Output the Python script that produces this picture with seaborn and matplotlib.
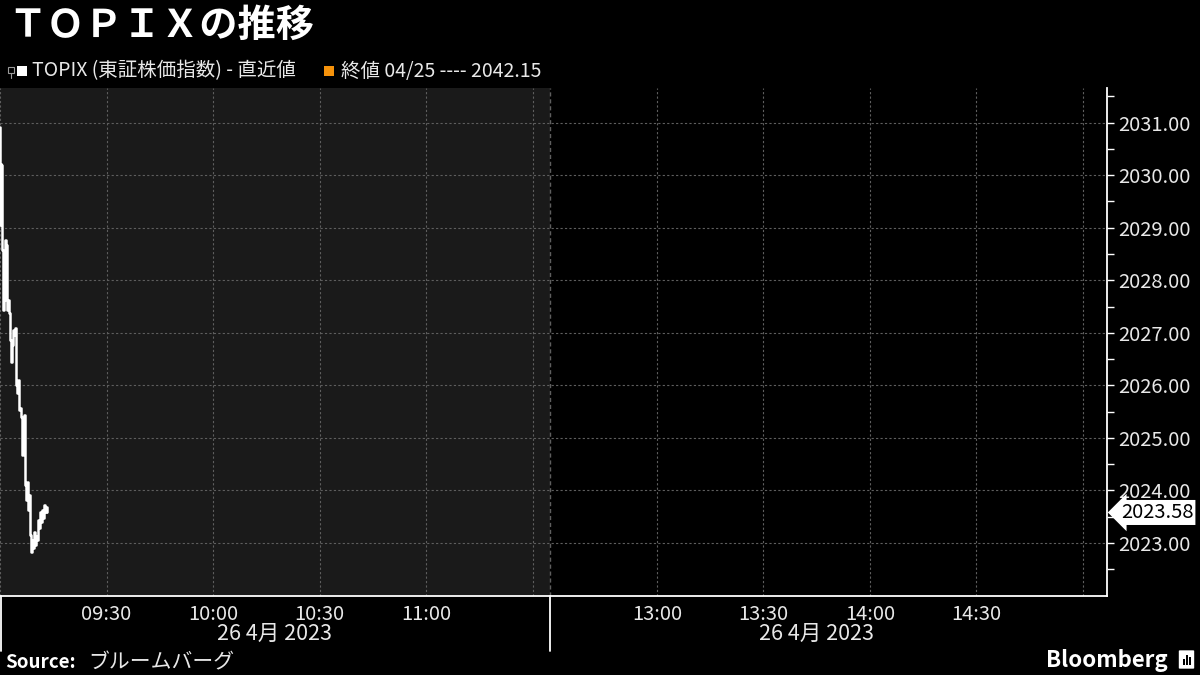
import matplotlib
matplotlib.use("Agg")
import matplotlib.pyplot as plt
import matplotlib.transforms as mtransforms
from matplotlib.patches import FancyBboxPatch, Rectangle
from matplotlib.lines import Line2D
import seaborn as sns
import pandas as pd

# ---------------- data ----------------
# minutes after 09:00 (morning session)
minutes = [0.00, 0.14, 0.28, 0.42, 0.56, 0.84, 1.12, 1.40, 1.68, 1.96, 2.24, 2.52,
           2.80, 3.08, 3.36, 3.64, 3.92, 4.21, 4.49, 4.77, 5.05, 5.33, 5.61, 5.89,
           6.17, 6.45, 6.73, 7.01, 7.29, 7.57, 7.85, 8.13, 8.41, 8.69, 8.97, 9.25,
           9.53, 9.81, 10.09, 10.37, 10.65, 10.93, 11.21, 11.49, 11.77, 12.05,
           12.34, 12.62, 12.90, 13.18]
prices = [2030.91, 2029.05, 2030.22, 2030.19, 2028.57, 2027.43, 2027.62, 2028.76,
          2028.67, 2027.43, 2027.62, 2027.37, 2026.86, 2026.44, 2026.76, 2027.05,
          2026.95, 2027.09, 2026.00, 2025.85, 2026.10, 2025.53, 2025.57, 2025.40,
          2024.67, 2025.34, 2025.43, 2024.10, 2023.82, 2024.16, 2023.63, 2023.91,
          2023.15, 2022.83, 2023.06, 2022.90, 2023.21, 2022.96, 2023.13, 2023.06,
          2023.44, 2023.29, 2023.59, 2023.40, 2023.63, 2023.48, 2023.72, 2023.59,
          2023.68, 2023.58]
last_value = 2023.58
prev_close_label = "終値 04/25 ---- 2042.15"
series_label = "TOPIX (東証株価指数) - 直近値"
title = "ＴＯＰＩＸの推移"
date_label = "26 4月 2023"
morning_ticks = ["09:30", "10:00", "10:30", "11:00"]
afternoon_ticks = ["13:00", "13:30", "14:00", "14:30"]
y_ticks = [2023, 2024, 2025, 2026, 2027, 2028, 2029, 2030, 2031]

# ---------------- style ----------------
sns.set_style("dark")
plt.rcParams['font.family'] = ['Noto Sans CJK JP', 'DejaVu Sans']
BG = "#000000"
SHADE = "#1a1a1a"
GRID = "#5e5e5e"
TXT = "#e8e8e8"

fig = plt.figure(figsize=(12, 6.75), dpi=100, facecolor=BG)
ax = fig.add_axes([0, 79 / 675, 1107 / 1200, 508 / 675])
ax.set_facecolor(BG)

# session mapping: morning 0..150, afternoon starts at 155 (12:30)
BOUND = 154.8
XMAX = 311.8
ax.set_xlim(0, XMAX)
ax.set_ylim(2021.99, 2031.66)

ax.axvspan(0, BOUND, color=SHADE, zorder=0.1, lw=0)

df = pd.DataFrame({"t": minutes, "v": prices})
sns.lineplot(data=df, x="t", y="v", ax=ax, color="white", lw=1.8,
             drawstyle="steps-post", zorder=3)
ax.set_xlabel("")
ax.set_ylabel("")

# x ticks
major_x = [0, 30, 60, 90, 120, 150, 185, 215, 245, 275, 305]
major_lbl = ["", *morning_ticks, "", *afternoon_ticks, ""]
ax.set_xticks(major_x)
ax.set_xticklabels(major_lbl)
ax.set_xticks([15, 45, 75, 105, 135, 170, 200, 230, 260, 290], minor=True)

# y ticks
ax.yaxis.tick_right()
ax.set_yticks(y_ticks)
ax.set_yticklabels([f"{v:.2f}" for v in y_ticks])
ax.set_yticks([v + 0.5 for v in range(2022, 2032)], minor=True)

ax.tick_params(axis="x", which="both", colors="white", length=5, width=1,
               direction="out", pad=1, labelsize=14.5, labelcolor=TXT)
ax.tick_params(axis="y", which="both", colors="white", length=5, width=1,
               direction="out", pad=3, labelsize=14.5, labelcolor=TXT,
               right=True, left=False)

ax.grid(True, which="major", color=GRID, linestyle=(0, (2, 2)), linewidth=0.8)
ax.set_axisbelow(True)
ax.axvline(BOUND, color=GRID, linestyle=(0, (3, 2)), linewidth=1.0, zorder=1)

for s in ["left", "top"]:
    ax.spines[s].set_visible(False)
for s in ["right", "bottom"]:
    ax.spines[s].set_visible(True)
    ax.spines[s].set_color("white")
    ax.spines[s].set_linewidth(1.3)

# separators below the axis
trans = mtransforms.blended_transform_factory(ax.transData, ax.transAxes)
for xv in [0.4, BOUND]:
    ax.plot([xv, xv], [0, -55 / 508], transform=trans, color="white",
            lw=1.3, clip_on=False, zorder=5)

# date labels
ax.text(77.4, -38 / 508, date_label, transform=trans, ha="center", va="center",
        color=TXT, fontsize=15.5)
ax.text(230, -38 / 508, date_label, transform=trans, ha="center", va="center",
        color=TXT, fontsize=15.5)

# last value tag
ax.annotate(f"{last_value:.2f}", xy=(1, last_value),
            xycoords=("axes fraction", "data"),
            xytext=(10, 0), textcoords="offset points", ha="left", va="center",
            color="black", fontsize=14.5,
            bbox=dict(boxstyle="larrow,pad=0.1", fc="white", ec="none"))

# title and legend
fig.text(8 / 1200, 1 - 25 / 675, title, color="white", fontsize=27.5,
         fontweight="bold", ha="left", va="center")
# small collapse icon (drawn shape)
fig.patches.append(Rectangle((8 / 1200, 1 - 73 / 675), 6 / 1200, 6 / 675,
                             transform=fig.transFigure, fc="none",
                             ec="#9a9a9a", lw=0.8))
fig.lines.append(Line2D([11 / 1200, 11 / 1200], [1 - 73 / 675, 1 - 78 / 675],
                        transform=fig.transFigure, color="#9a9a9a", lw=0.8))
fig.patches.append(Rectangle((17 / 1200, 1 - 76 / 675), 10 / 1200, 10 / 675,
                             transform=fig.transFigure, fc="white", ec="none"))
fig.text(32 / 1200, 1 - 71 / 675, series_label, color=TXT, fontsize=14,
         ha="left", va="center")
fig.patches.append(Rectangle((324 / 1200, 1 - 76 / 675), 10 / 1200, 10 / 675,
                             transform=fig.transFigure, fc="#f5920b", ec="none"))
fig.text(341 / 1200, 1 - 71 / 675, prev_close_label, color=TXT, fontsize=14,
         ha="left", va="center")

# footer
fig.text(5 / 1200, 1 - 662 / 675, "Source:", color="white", fontsize=13.5,
         fontweight="bold", ha="left", va="center")
fig.text(88 / 1200, 1 - 662 / 675, "ブルームバーグ", color=TXT, fontsize=15,
         ha="left", va="center")
fig.text(1168 / 1200, 1 - 660 / 675, "Bloomberg", color="white", fontsize=16,
         fontweight="bold", ha="right", va="center")
fig.patches.append(FancyBboxPatch((1180 / 1200, 1 - 668 / 675), 13 / 1200, 17 / 675,
                                  boxstyle="round,pad=0.001",
                                  transform=fig.transFigure, fc="white", ec="none"))
for i, h in enumerate([6, 10, 8]):
    fig.patches.append(Rectangle(((1183 + i * 3) / 1200, 1 - 665 / 675), 1.6 / 1200,
                                 h / 675, transform=fig.transFigure,
                                 fc="black", ec="none"))

fig.savefig("out.png", dpi=100, facecolor=BG)
